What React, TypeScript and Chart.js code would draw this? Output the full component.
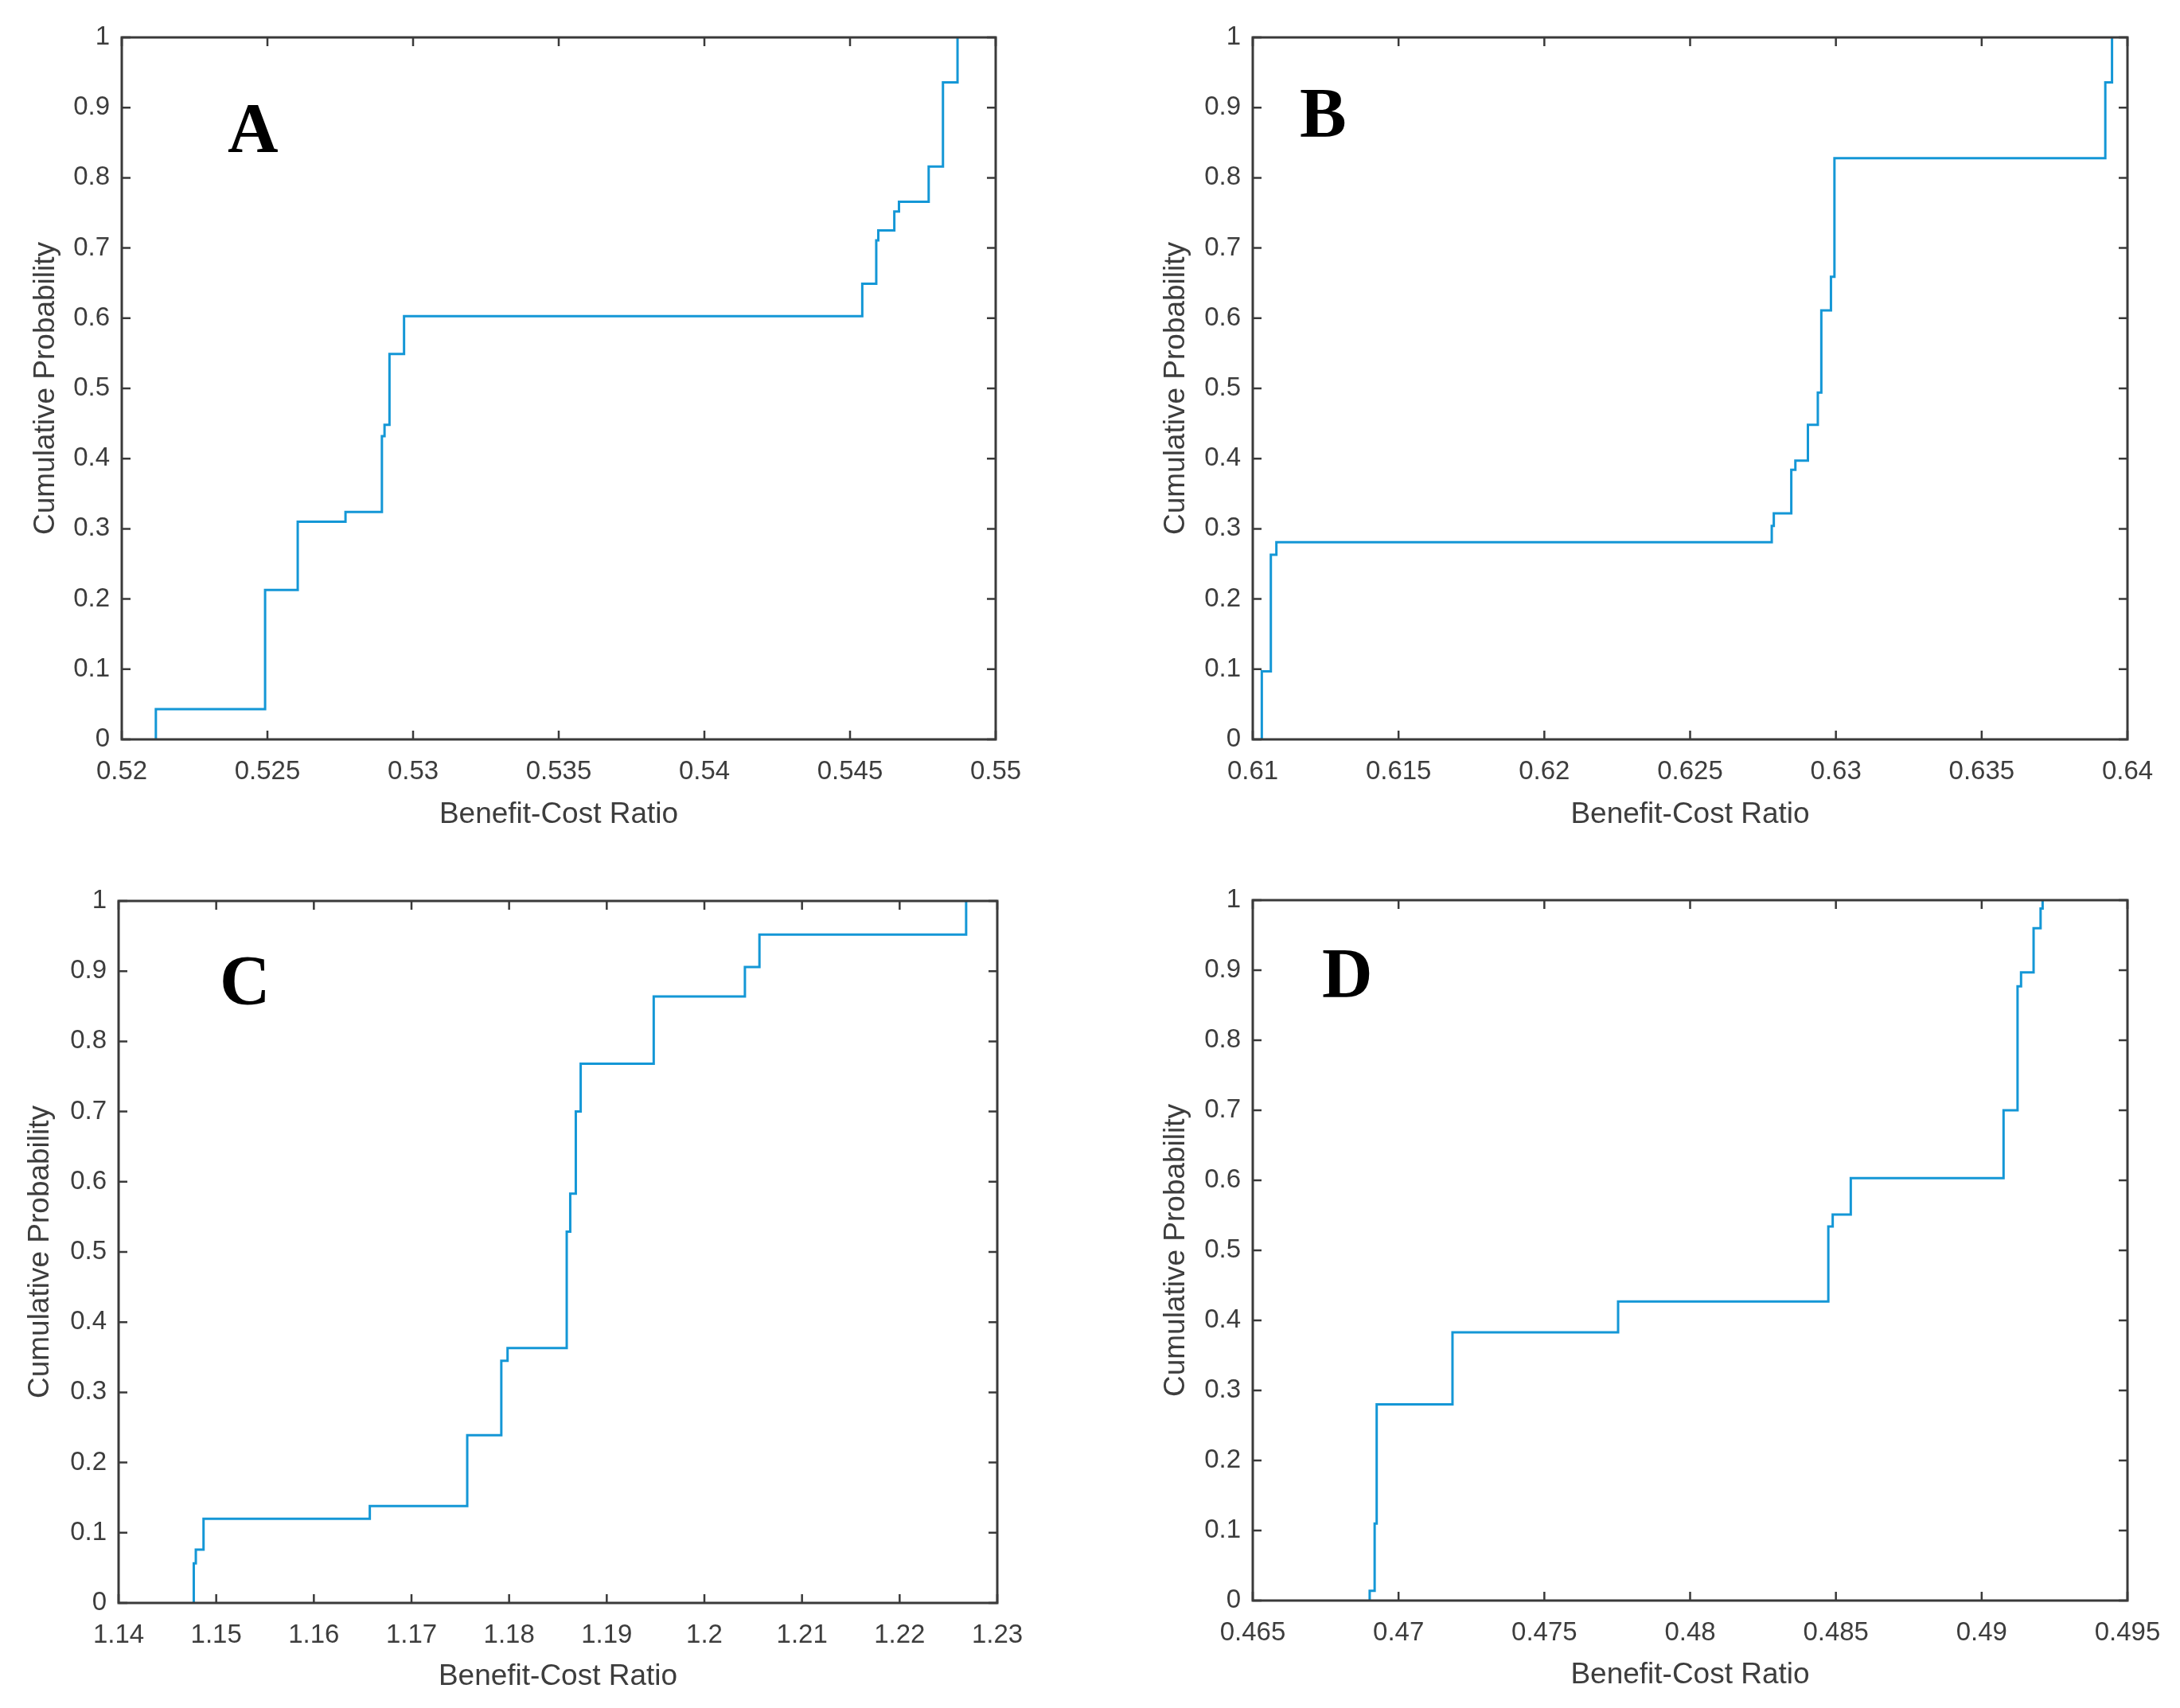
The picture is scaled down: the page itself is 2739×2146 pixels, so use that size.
import React, { useEffect, useRef } from "react";
import { Chart, registerables } from "chart.js";

Chart.register(...registerables);

// ---------- DATA ----------
const yTickValues = [0, 0.1, 0.2, 0.3, 0.4, 0.5, 0.6, 0.7, 0.8, 0.9, 1];
const yTickLabels = ["0", "0.1", "0.2", "0.3", "0.4", "0.5", "0.6", "0.7", "0.8", "0.9", "1"];

const aXTickValues = [0.52, 0.525, 0.53, 0.535, 0.54, 0.545, 0.55];
const aXTickLabels = ["0.52", "0.525", "0.53", "0.535", "0.54", "0.545", "0.55"];
const aX = [0.52117, 0.52117, 0.52492, 0.52604, 0.52768, 0.52893, 0.52902, 0.52919, 0.52969, 0.54542, 0.5459, 0.54597, 0.54652, 0.54668, 0.5477, 0.54819, 0.54869];
const aY = [0, 0.043, 0.213, 0.31, 0.324, 0.432, 0.448, 0.549, 0.603, 0.649, 0.711, 0.725, 0.752, 0.766, 0.816, 0.936, 1.0];

const bXTickValues = [0.61, 0.615, 0.62, 0.625, 0.63, 0.635, 0.64];
const bXTickLabels = ["0.61", "0.615", "0.62", "0.625", "0.63", "0.635", "0.64"];
const bX = [0.61031, 0.61031, 0.61062, 0.61081, 0.6278, 0.62787, 0.62847, 0.62861, 0.62904, 0.62938, 0.6295, 0.62983, 0.62995, 0.63924, 0.63947];
const bY = [0, 0.097, 0.263, 0.281, 0.304, 0.322, 0.384, 0.397, 0.448, 0.494, 0.611, 0.659, 0.828, 0.936, 1.0];

const cXTickValues = [1.14, 1.15, 1.16, 1.17, 1.18, 1.19, 1.2, 1.21, 1.22, 1.23];
const cXTickLabels = ["1.14", "1.15", "1.16", "1.17", "1.18", "1.19", "1.2", "1.21", "1.22", "1.23"];
const cX = [1.1477, 1.1477, 1.14791, 1.1487, 1.16573, 1.17571, 1.1792, 1.17984, 1.1859, 1.18626, 1.18683, 1.18733, 1.19481, 1.20415, 1.20564, 1.22681];
const cY = [0, 0.0565, 0.076, 0.12, 0.138, 0.239, 0.345, 0.363, 0.529, 0.583, 0.7, 0.768, 0.864, 0.906, 0.952, 1.0];

const dXTickValues = [0.465, 0.47, 0.475, 0.48, 0.485, 0.49, 0.495];
const dXTickLabels = ["0.465", "0.47", "0.475", "0.48", "0.485", "0.49", "0.495"];
const dX = [0.46901, 0.46901, 0.46918, 0.46925, 0.47185, 0.47753, 0.48474, 0.48489, 0.48551, 0.49075, 0.49123, 0.49135, 0.49178, 0.49202, 0.49209];
const dY = [0, 0.014, 0.11, 0.28, 0.383, 0.427, 0.534, 0.551, 0.603, 0.7, 0.877, 0.897, 0.96, 0.988, 1.0];

const xTitle = "Benefit-Cost Ratio";
const yTitle = "Cumulative Probability";

// ---------- STYLE / LAYOUT ----------
const LINE_COLOR = "#1497d6";
const AXIS_COLOR = "#3a3a3a";
const TEXT_COLOR = "#3d3d3d";
const FONT = "'Liberation Sans', Arial, Helvetica, sans-serif";
const TICK_SIZE = 33;
const TITLE_SIZE = 37;

type Panel = {
  letter: string;
  xs: number[];
  ys: number[];
  xTicks: number[];
  xLabels: string[];
  left: number;
  top: number;
  w: number;
  h: number;
  yW: number;
  padTop: number;
  padRight: number;
  xH: number;
  yTitlePad: number;
  xTitlePad: number;
  letterDx: number;
  letterDy: number;
};

const panels: Panel[] = [
  { letter: "A", xs: aX, ys: aY, xTicks: aXTickValues, xLabels: aXTickLabels,
    left: 0, top: 0, w: 1370, h: 1073, yW: 153, padTop: 47, padRight: 119, xH: 144,
    yTitlePad: 36, xTitlePad: 27, letterDx: 133, letterDy: 143 },
  { letter: "B", xs: bX, ys: bY, xTicks: bXTickValues, xLabels: bXTickLabels,
    left: 1370, top: 0, w: 1369, h: 1073, yW: 204, padTop: 47, padRight: 66, xH: 144,
    yTitlePad: 86, xTitlePad: 27, letterDx: 59, letterDy: 124 },
  { letter: "C", xs: cX, ys: cY, xTicks: cXTickValues, xLabels: cXTickLabels,
    left: 0, top: 1073, w: 1370, h: 1073, yW: 149, padTop: 59, padRight: 117, xH: 132,
    yTitlePad: 29, xTitlePad: 17, letterDx: 127, letterDy: 129 },
  { letter: "D", xs: dX, ys: dY, xTicks: dXTickValues, xLabels: dXTickLabels,
    left: 1370, top: 1073, w: 1369, h: 1073, yW: 204, padTop: 58, padRight: 66, xH: 135,
    yTitlePad: 86, xTitlePad: 19, letterDx: 87, letterDy: 121 },
];

function makeDecor(p: Panel) {
  return {
    id: "decor" + p.letter,
    afterDraw(chart: any) {
      const ctx = chart.ctx;
      const { left, right, top, bottom } = chart.chartArea;
      const xs = chart.scales.x;
      const ys = chart.scales.y;
      const L = 11;
      ctx.save();
      ctx.strokeStyle = AXIS_COLOR;
      ctx.lineWidth = 2.5;
      ctx.beginPath();
      for (const v of p.xTicks) {
        const px = xs.getPixelForValue(v);
        ctx.moveTo(px, bottom);
        ctx.lineTo(px, bottom - L);
        ctx.moveTo(px, top);
        ctx.lineTo(px, top + L);
      }
      for (const v of yTickValues) {
        const py = ys.getPixelForValue(v);
        ctx.moveTo(left, py);
        ctx.lineTo(left + L, py);
        ctx.moveTo(right, py);
        ctx.lineTo(right - L, py);
      }
      ctx.stroke();
      ctx.lineWidth = 3;
      ctx.strokeRect(left, top, right - left, bottom - top);
      ctx.fillStyle = "#000000";
      ctx.font = "bold 88px 'Liberation Serif', 'Times New Roman', serif";
      ctx.textAlign = "left";
      ctx.textBaseline = "alphabetic";
      ctx.fillText(p.letter, left + p.letterDx, top + p.letterDy);
      ctx.restore();
    },
  };
}

function PanelChart({ p }: { p: Panel }) {
  const ref = useRef<HTMLCanvasElement>(null);
  useEffect(() => {
    if (!ref.current) return;
    const data = p.xs.map((x, i) => ({ x, y: p.ys[i] }));
    const chart = new Chart(ref.current, {
      type: "line",
      data: {
        datasets: [
          {
            data,
            borderColor: LINE_COLOR,
            borderWidth: 3,
            pointRadius: 0,
            stepped: "before",
            fill: false,
            tension: 0,
          } as any,
        ],
      },
      options: {
        animation: false,
        responsive: false,
        devicePixelRatio: 1,
        events: [],
        layout: { padding: { top: p.padTop, right: p.padRight, left: 0, bottom: 0 } },
        plugins: { legend: { display: false }, tooltip: { enabled: false } },
        scales: {
          x: {
            type: "linear",
            min: p.xTicks[0],
            max: p.xTicks[p.xTicks.length - 1],
            grid: { display: false, drawTicks: false },
            border: { display: false },
            afterBuildTicks: (scale: any) => {
              scale.ticks = p.xTicks.map((v) => ({ value: v }));
            },
            afterFit: (scale: any) => {
              scale.height = p.xH;
            },
            ticks: {
              autoSkip: false,
              maxRotation: 0,
              minRotation: 0,
              padding: 21,
              color: TEXT_COLOR,
              font: { family: FONT, size: TICK_SIZE },
              callback: (_v: any, i: number) => p.xLabels[i],
            },
            title: {
              display: true,
              text: xTitle,
              color: TEXT_COLOR,
              font: { family: FONT, size: TITLE_SIZE },
              padding: { top: 0, bottom: p.xTitlePad },
            },
          },
          y: {
            type: "linear",
            min: 0,
            max: 1,
            grid: { display: false, drawTicks: false },
            border: { display: false },
            afterBuildTicks: (scale: any) => {
              scale.ticks = yTickValues.map((v) => ({ value: v }));
            },
            afterFit: (scale: any) => {
              scale.width = p.yW;
            },
            ticks: {
              autoSkip: false,
              padding: 15,
              color: TEXT_COLOR,
              font: { family: FONT, size: TICK_SIZE },
              callback: (_v: any, i: number) => yTickLabels[i],
            },
            title: {
              display: true,
              text: yTitle,
              color: TEXT_COLOR,
              font: { family: FONT, size: TITLE_SIZE },
              padding: { top: p.yTitlePad, bottom: 0 },
            },
          },
        },
      } as any,
      plugins: [makeDecor(p)],
    });
    return () => chart.destroy();
  }, [p]);
  return (
    <canvas
      ref={ref}
      width={p.w}
      height={p.h}
      style={{ position: "absolute", left: p.left, top: p.top, width: p.w, height: p.h }}
    />
  );
}

export default function App() {
  return (
    <div
      style={{
        position: "absolute",
        left: 0,
        top: 0,
        width: 2739,
        height: 2146,
        background: "#ffffff",
        overflow: "hidden",
      }}
    >
      {panels.map((p) => (
        <PanelChart key={p.letter} p={p} />
      ))}
    </div>
  );
}
